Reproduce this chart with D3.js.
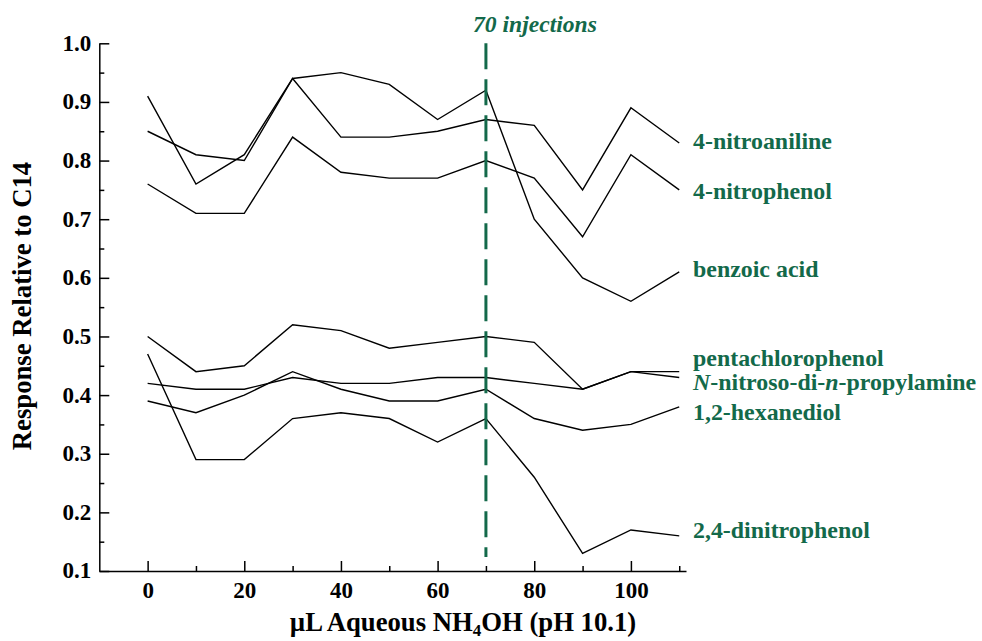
<!DOCTYPE html>
<html>
<head>
<meta charset="utf-8">
<script src="https://cdn.jsdelivr.net/npm/d3@7"></script>
<style>
  body { margin: 0; background: #fff; }
  svg { display: block; }
  text { font-family: "Liberation Serif", "Times New Roman", serif; font-weight: bold; }
</style>
</head>
<body>
<svg id="chart" width="982" height="641"></svg>
<script>
const xValues = [0, 10, 20, 30, 40, 50, 60, 70, 80, 90, 100, 110];
const seriesNames = ["4-nitroaniline", "4-nitrophenol", "benzoic acid", "pentachlorophenol",
  "N-nitroso-di-n-propylamine", "1,2-hexanediol", "2,4-dinitrophenol"];
const nitroaniline   = [0.85, 0.81, 0.80, 0.94, 0.84, 0.84, 0.85, 0.87, 0.86, 0.75, 0.89, 0.83];
const nitrophenol    = [0.76, 0.71, 0.71, 0.84, 0.78, 0.77, 0.77, 0.80, 0.77, 0.67, 0.81, 0.75];
const benzoicAcid    = [0.91, 0.76, 0.81, 0.94, 0.95, 0.93, 0.87, 0.92, 0.70, 0.60, 0.56, 0.61];
const pentachloro    = [0.50, 0.44, 0.45, 0.52, 0.51, 0.48, 0.49, 0.50, 0.49, 0.41, 0.44, 0.44];
const nitrosoAmine   = [0.42, 0.41, 0.41, 0.43, 0.42, 0.42, 0.43, 0.43, 0.42, 0.41, 0.44, 0.43];
const hexanediol     = [0.39, 0.37, 0.40, 0.44, 0.41, 0.39, 0.39, 0.41, 0.36, 0.34, 0.35, 0.38];
const dinitrophenol  = [0.47, 0.29, 0.29, 0.36, 0.37, 0.36, 0.32, 0.36, 0.26, 0.13, 0.17, 0.16];
const yMajorTicks = [0.1, 0.2, 0.3, 0.4, 0.5, 0.6, 0.7, 0.8, 0.9, 1.0];
const yMinorTicks = [0.15, 0.25, 0.35, 0.45, 0.55, 0.65, 0.75, 0.85, 0.95];
const xMajorTicks = [0, 20, 40, 60, 80, 100];
const xMinorTicks = [10, 30, 50, 70, 90, 110];
const markerX = 70;
const markerLabel = "70 injections";
// label baselines (in data units)
const labelY = [0.819, 0.735, 0.602, 0.449, 0.408, 0.357, 0.157];

const allSeries = [nitroaniline, nitrophenol, benzoicAcid, pentachloro, nitrosoAmine, hexanediol, dinitrophenol];
const green = "#13694a";

const svg = d3.select("#chart");
const x = d3.scaleLinear().domain([-10, 111.4]).range([99.3, 686]);
const y = d3.scaleLinear().domain([0.1, 1.0]).range([571, 43.3]);

// axes
const gx = svg.append("g").attr("transform", `translate(0,${y(0.1)})`);
gx.call(d3.axisBottom(x).tickValues(xMajorTicks).tickSizeInner(-10).tickSizeOuter(0).tickPadding(0).tickFormat(d3.format("d")));
const gx2 = svg.append("g").attr("transform", `translate(0,${y(0.1)})`);
gx2.call(d3.axisBottom(x).tickValues(xMinorTicks).tickSizeInner(-5).tickSizeOuter(0).tickFormat(""));
gx2.select(".domain").remove();

const gy = svg.append("g").attr("transform", `translate(${x(-10)},0)`);
gy.call(d3.axisLeft(y).tickValues(yMajorTicks).tickSizeInner(-10).tickSizeOuter(0).tickPadding(8).tickFormat(d3.format(".1f")));
const gy2 = svg.append("g").attr("transform", `translate(${x(-10)},0)`);
gy2.call(d3.axisLeft(y).tickValues(yMinorTicks).tickSizeInner(-5).tickSizeOuter(0).tickFormat(""));
gy2.select(".domain").remove();

svg.selectAll(".domain, .tick line").attr("stroke", "#000").attr("stroke-width", 1.5);
gx.selectAll(".tick text").attr("y", 27).attr("dy", 0).attr("font-size", 23)
  .attr("font-family", "Liberation Serif").attr("font-weight", "bold").attr("fill", "#000");
gy.selectAll(".tick text").attr("dy", "0.3em").attr("font-size", 23)
  .attr("font-family", "Liberation Serif").attr("font-weight", "bold").attr("fill", "#000");

// axis titles
const xt = svg.append("text").attr("x", 463).attr("y", 631).attr("text-anchor", "middle")
  .attr("font-size", 26.7).attr("fill", "#000");
xt.append("tspan").text("µL Aqueous NH");
xt.append("tspan").text("4").attr("font-size", 17).attr("dy", 5);
xt.append("tspan").text("OH (pH 10.1)").attr("dy", -5);

svg.append("text").attr("transform", "translate(31,306) rotate(-90)").attr("text-anchor", "middle")
  .attr("font-size", 26.7).attr("fill", "#000").text("Response Relative to C14");

// lines
const line = d3.line().x((d, i) => x(xValues[i])).y(d => y(d));
svg.append("g").selectAll("path").data(allSeries).join("path")
  .attr("d", line).attr("fill", "none").attr("stroke", "#000").attr("stroke-width", 1.4)
  .attr("stroke-linejoin", "miter");

// marker
svg.append("line").attr("x1", x(markerX)).attr("x2", x(markerX)).attr("y1", y(1.0)).attr("y2", 557)
  .attr("stroke", green).attr("stroke-width", 3).attr("stroke-dasharray", "26 10");
svg.append("text").attr("x", 473).attr("y", 32).attr("font-size", 23.6).attr("font-style", "italic")
  .attr("fill", green).text(markerLabel);

// series labels
const lbl = svg.append("g").attr("fill", green).attr("font-size", 23.9);
seriesNames.forEach((name, i) => {
  const t = lbl.append("text").attr("x", 693).attr("y", y(labelY[i]));
  if (name.startsWith("N-nitroso")) {
    t.append("tspan").attr("font-style", "italic").text("N");
    t.append("tspan").text("-nitroso-di-");
    t.append("tspan").attr("font-style", "italic").text("n");
    t.append("tspan").text("-propylamine");
  } else {
    t.text(name);
  }
});
</script>
</body>
</html>
